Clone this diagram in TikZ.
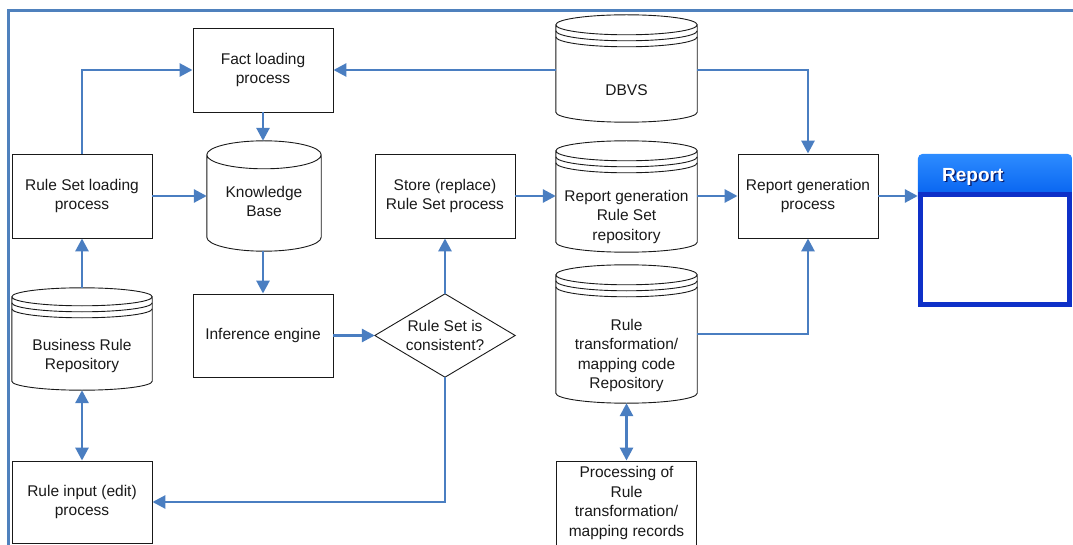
\documentclass[tikz,border=0pt]{standalone}
\usepackage{fontspec}
\setmainfont{Liberation Sans}
\usetikzlibrary{arrows.meta,calc}

\definecolor{ink}{RGB}{25,25,25}
\definecolor{linkblue}{RGB}{74,126,193}
\definecolor{framecol}{RGB}{79,129,189}
\definecolor{barTop}{RGB}{45,140,255}
\definecolor{barBot}{RGB}{0,92,238}
\definecolor{winEdge}{RGB}{14,48,200}
\definecolor{titleShade}{RGB}{10,30,110}

\newcommand\boxfont{\fontsize{15.5pt}{19.5pt}\selectfont}
\newcommand\titlefont{\fontsize{19pt}{22pt}\selectfont\bfseries}

% database drum: side walls, bottom arc and full top ellipse
\newcommand\drumoutline[2]{%
  \draw[shapeline] let \p1=(#1.north west), \p2=(#1.south east), \n1={(\x2-\x1)/2} in
    (\x1,\y1-#2) -- (\x1,\y2+#2)
      arc[start angle=180, end angle=360, x radius={\n1*1pt}, y radius=#2]
      -- (\x2,\y1-#2)
    (\x1,\y1-#2) arc[start angle=180, end angle=-180, x radius={\n1*1pt}, y radius=#2];
}
% extra rim below the top ellipse
\newcommand\drumrim[3]{%
  \draw[shapeline] let \p1=(#1.north west), \p2=(#1.south east), \n1={(\x2-\x1)/2} in
    (\x1,\y1-#2-#3) arc[start angle=180, end angle=360, x radius={\n1*1pt}, y radius=#2];
}

\begin{document}
\begin{tikzpicture}[x=1pt,y=-1pt,
  shapeline/.style={draw=ink, line width=0.9pt},
  procbox/.style={shapeline, fill=white, minimum width=140pt, minimum height=84pt,
    inner sep=0pt, align=center, font=\boxfont, text=ink},
  drumbody/.style={draw=none, inner sep=0pt},
  txt/.style={align=center, font=\boxfont, text=ink, inner sep=0pt},
  link/.style={draw=linkblue, line width=2.8pt, -{Triangle[length=13pt,width=13pt]}},
  linkboth/.style={draw=linkblue, line width=2.8pt,
    {Triangle[length=13pt,width=13pt]}-{Triangle[length=13pt,width=13pt]}},
]
\useasboundingbox (0,0) rectangle (1073,545);

% outer frame
\draw[framecol, line width=3pt] (8,548) -- (8,11) -- (1076,11);

% process boxes
\node[procbox] (fact)  at (263,70)    {Fact loading\\process};
\node[procbox] (rsl)   at (82,196)    {Rule Set loading\\process};
\node[procbox, minimum height=83pt] (inf) at (263,335.5) {Inference engine};
\node[procbox, minimum height=82pt] (rin) at (82,502) {Rule input (edit)\\process};
\node[procbox] (store) at (445,196)   {Store (replace)\\Rule Set process};
\node[procbox] (rgp)   at (808,196)   {Report generation\\process};
\node[procbox] (proc)  at (626.5,503) {Processing of\\Rule\\transformation/\\mapping records};

% decision
\node[txt, minimum width=140pt, minimum height=83pt] (dec) at (445,335.5) {Rule Set is\\consistent?};
\draw[shapeline] (dec.west) -- (dec.north) -- (dec.east) -- (dec.south) -- cycle;

% databases
\node[drumbody, minimum width=114pt, minimum height=110pt,
  label={[txt,yshift=-5.5pt]center:{Knowledge\\Base}}] (kb) at (264,196) {};
\drumoutline{kb}{14pt}

\node[drumbody, minimum width=141pt, minimum height=107pt,
  label={[txt,yshift=-21.5pt]center:{DBVS}}] (dbvs) at (626.5,68.5) {};
\drumoutline{dbvs}{10pt}\drumrim{dbvs}{10pt}{6pt}\drumrim{dbvs}{10pt}{12pt}

\node[drumbody, minimum width=141pt, minimum height=111pt,
  label={[txt,yshift=-20pt]center:{Report generation\\Rule Set\\repository}}] (rgrs) at (626.5,196.5) {};
\drumoutline{rgrs}{10pt}\drumrim{rgrs}{10pt}{6pt}\drumrim{rgrs}{10pt}{12pt}

\node[drumbody, minimum width=141pt, minimum height=138pt,
  label={[txt,yshift=-21.5pt]center:{Rule\\transformation/\\mapping code\\Repository}}] (rt) at (626.5,334) {};
\drumoutline{rt}{10pt}\drumrim{rt}{10pt}{6pt}\drumrim{rt}{10pt}{12pt}

\node[drumbody, minimum width=140pt, minimum height=102pt,
  label={[txt,yshift=-17pt]center:{Business Rule\\Repository}}] (brr) at (82,339) {};
\drumoutline{brr}{9pt}\drumrim{brr}{9pt}{6pt}\drumrim{brr}{9pt}{12pt}

% report window
\node[drumbody, minimum width=154pt, minimum height=153pt] (report) at (995,230.5) {};
\shade[top color=barTop, bottom color=barBot, rounded corners=5pt]
  (report.north west) rectangle ([yshift=-50pt]report.north east);
\draw[winEdge, line width=5pt, fill=white]
  ([xshift=2.5pt,yshift=-41pt]report.north west) rectangle ([xshift=-2.5pt,yshift=2.5pt]report.south east);
\node[anchor=west, font=\titlefont, text=titleShade, inner sep=0pt] (rtitleshade) at (943.3,178.3) {Report};
\node[anchor=west, font=\titlefont, text=white, inner sep=0pt] (rtitle) at (942,177) {Report};

% connectors
\draw[link] (rsl.north) |- (fact.west);
\draw[link] (dbvs.west |- fact.east) -- (fact.east);
\draw[link] (fact.south) -- (fact.south |- kb.north);
\draw[link] (rsl.east) -- (kb.west);
\draw[link] (brr.north) -- (rsl.south);
\draw[linkboth] (brr.south) -- (rin.north);
\draw[link] (kb.south -| inf.north) -- (inf.north);
\draw[link] (inf.east) -- (dec.west);
\draw[link] (dec.north) -- (store.south);
\draw[link] (dec.south) |- (rin.east);
\draw[link] (store.east) -- (store.east -| rgrs.west);
\draw[link] (rgrs.east |- rgp.west) -- (rgp.west);
\draw[link] (dbvs.east |- fact.east) -| (rgp.north);
\draw[link] (rt.east) -| (rgp.south);
\draw[linkboth] (rt.south) -- (proc.north);
\draw[link] (rgp.east) -- (rgp.east -| report.west);
\end{tikzpicture}
\end{document}
